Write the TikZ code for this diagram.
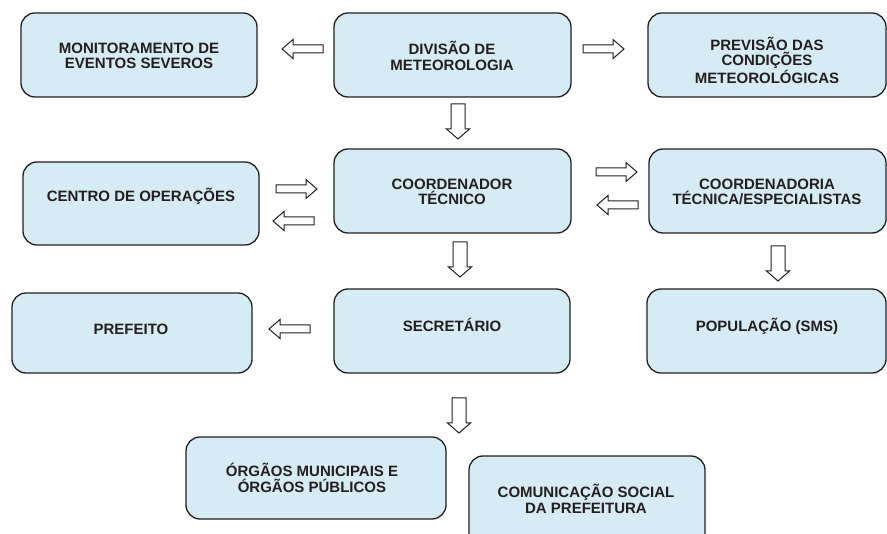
\documentclass[tikz,border=0pt]{standalone}
\usepackage{fontspec}
\setmainfont{Liberation Sans}
\usetikzlibrary{fit}
\definecolor{boxfill}{RGB}{213,236,244}
\definecolor{ink}{RGB}{35,31,32}
\newcommand\larr[2]{\draw[barrow,shift={(#1,#2)}] (0,0) -- (11,-9.5) -- (11,-4) -- (41,-4) -- (41,4) -- (11,4) -- (11,9.5) -- cycle;}
\newcommand\rarr[2]{\draw[barrow,shift={(#1,#2)},xscale=-1] (0,0) -- (11,-9.5) -- (11,-4) -- (41,-4) -- (41,4) -- (11,4) -- (11,9.5) -- cycle;}
\newcommand\darr[2]{\draw[barrow,shift={(#1,#2)}] (0,0) -- (-11.5,-10) -- (-7,-10) -- (-7,-35) -- (7,-35) -- (7,-10) -- (11.5,-10) -- cycle;}
\begin{document}
\begin{tikzpicture}[x=1pt,y=-1pt,
 box/.style={draw=ink,line width=1.3pt,fill=boxfill,rounded corners=14pt,inner sep=0pt},
 lbl/.style={font=\bfseries\fontsize{15}{15.6}\selectfont,align=center,text=ink,inner sep=0pt},
 barrow/.style={draw=ink,line width=1pt,fill=white,line join=miter}]
\useasboundingbox (0,0) rectangle (887,534);
\clip (0,0) rectangle (887,534);
% boxes
\node[box,fit={(21,13) (257,97)}] (mon) {};
\node[box,fit={(334,13) (571,97)}] (div) {};
\node[box,fit={(648,13) (886,97)}] (prev) {};
\node[box,fit={(23,162) (259,245)}] (cen) {};
\node[box,fit={(334,149) (571,233)}] (coord) {};
\node[box,fit={(649,149) (886,233)}] (coordt) {};
\node[box,fit={(12,293) (252,373)}] (pref) {};
\node[box,fit={(334,289) (570,373)}] (sec) {};
\node[box,fit={(647,289) (886,373)}] (pop) {};
\node[box,fit={(186,437) (446,519)}] (org) {};
\node[box,fit={(469,456) (705,570)}] (com) {};
% labels
\node[lbl] (monT) at (139,56) {MONITORAMENTO DE\\EVENTOS SEVEROS};
\node[lbl] (divT) at (452,56) {DIVISÃO DE\\METEOROLOGIA};
\node[lbl] (prevT) at (767,60) {PREVISÃO DAS\\CONDIÇÕES\\METEOROLÓGICAS};
\node[lbl] (cenT) at (141,196) {CENTRO DE OPERAÇÕES};
\node[lbl] (coordT) at (452,192) {COORDENADOR\\TÉCNICO};
\node[lbl] (coordtT) at (767,192) {COORDENADORIA\\TÉCNICA/ESPECIALISTAS};
\node[lbl] (prefT) at (131,329) {PREFEITO};
\node[lbl] (secT) at (452,325) {SECRETÁRIO};
\node[lbl] (popT) at (767,326) {POPULAÇÃO (SMS)};
\node[lbl] (orgT) at (312,478) {ÓRGÃOS MUNICIPAIS E\\ÓRGÃOS PÚBLICOS};
\node[lbl] (comT) at (586,499) {COMUNICAÇÃO SOCIAL\\DA PREFEITURA};
% block arrows
\larr{282}{49}
\rarr{624}{49}
\rarr{317}{189}
\larr{273}{221}
\rarr{637}{172}
\larr{597}{205}
\larr{269}{329}
\darr{458}{139}
\darr{460}{277}
\darr{778}{281}
\darr{459}{433}
\end{tikzpicture}
\end{document}
